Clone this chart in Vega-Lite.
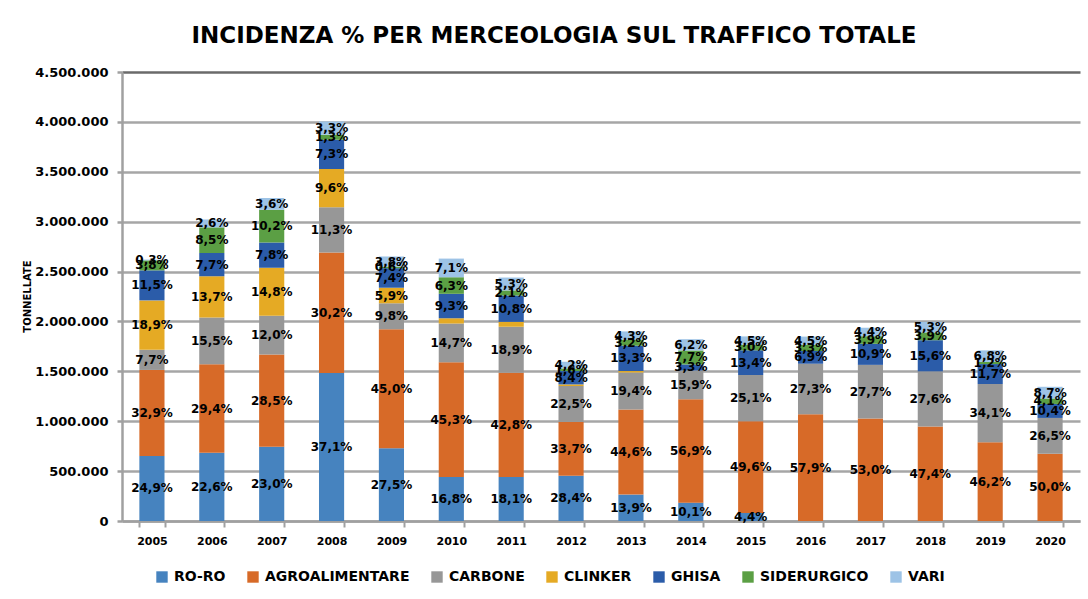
{
  "$schema": "https://vega.github.io/schema/vega-lite/v6.json",
  "autosize": "none",
  "padding": {"left": 122, "top": 72, "right": 8, "bottom": 78},
  "width": 958,
  "height": 449,
  "background": "white",
  "title": {
    "text": "INCIDENZA % PER MERCEOLOGIA SUL TRAFFICO TOTALE",
    "font": "DejaVu Sans",
    "fontSize": 23,
    "fontWeight": "bold",
    "color": "#000000",
    "anchor": "middle",
    "dx": -47,
    "offset": 18
  },
  "data": {
    "values": [
      {"y":"2005","c":"RO-RO","o":1,"t":652000,"p":"24,9%"},
      {"y":"2005","c":"AGROALIMENTARE","o":2,"t":862000,"p":"32,9%"},
      {"y":"2005","c":"CARBONE","o":3,"t":202000,"p":"7,7%"},
      {"y":"2005","c":"CLINKER","o":4,"t":495000,"p":"18,9%"},
      {"y":"2005","c":"GHISA","o":5,"t":301000,"p":"11,5%"},
      {"y":"2005","c":"SIDERURGICO","o":6,"t":100000,"p":"3,8%"},
      {"y":"2005","c":"VARI","o":7,"t":8000,"p":"0,3%"},
      {"y":"2006","c":"RO-RO","o":1,"t":683000,"p":"22,6%"},
      {"y":"2006","c":"AGROALIMENTARE","o":2,"t":888000,"p":"29,4%"},
      {"y":"2006","c":"CARBONE","o":3,"t":468000,"p":"15,5%"},
      {"y":"2006","c":"CLINKER","o":4,"t":414000,"p":"13,7%"},
      {"y":"2006","c":"GHISA","o":5,"t":233000,"p":"7,7%"},
      {"y":"2006","c":"SIDERURGICO","o":6,"t":257000,"p":"8,5%"},
      {"y":"2006","c":"VARI","o":7,"t":79000,"p":"2,6%"},
      {"y":"2007","c":"RO-RO","o":1,"t":745000,"p":"23,0%"},
      {"y":"2007","c":"AGROALIMENTARE","o":2,"t":923000,"p":"28,5%"},
      {"y":"2007","c":"CARBONE","o":3,"t":389000,"p":"12,0%"},
      {"y":"2007","c":"CLINKER","o":4,"t":480000,"p":"14,8%"},
      {"y":"2007","c":"GHISA","o":5,"t":253000,"p":"7,8%"},
      {"y":"2007","c":"SIDERURGICO","o":6,"t":330000,"p":"10,2%"},
      {"y":"2007","c":"VARI","o":7,"t":117000,"p":"3,6%"},
      {"y":"2008","c":"RO-RO","o":1,"t":1484000,"p":"37,1%"},
      {"y":"2008","c":"AGROALIMENTARE","o":2,"t":1208000,"p":"30,2%"},
      {"y":"2008","c":"CARBONE","o":3,"t":452000,"p":"11,3%"},
      {"y":"2008","c":"CLINKER","o":4,"t":384000,"p":"9,6%"},
      {"y":"2008","c":"GHISA","o":5,"t":292000,"p":"7,3%"},
      {"y":"2008","c":"SIDERURGICO","o":6,"t":52000,"p":"1,3%"},
      {"y":"2008","c":"VARI","o":7,"t":132000,"p":"3,3%"},
      {"y":"2009","c":"RO-RO","o":1,"t":729000,"p":"27,5%"},
      {"y":"2009","c":"AGROALIMENTARE","o":2,"t":1193000,"p":"45,0%"},
      {"y":"2009","c":"CARBONE","o":3,"t":260000,"p":"9,8%"},
      {"y":"2009","c":"CLINKER","o":4,"t":156000,"p":"5,9%"},
      {"y":"2009","c":"GHISA","o":5,"t":196000,"p":"7,4%"},
      {"y":"2009","c":"SIDERURGICO","o":6,"t":16000,"p":"0,6%"},
      {"y":"2009","c":"VARI","o":7,"t":101000,"p":"3,8%"},
      {"y":"2010","c":"RO-RO","o":1,"t":442000,"p":"16,8%"},
      {"y":"2010","c":"AGROALIMENTARE","o":2,"t":1150000,"p":"45,3%"},
      {"y":"2010","c":"CARBONE","o":3,"t":387000,"p":"14,7%"},
      {"y":"2010","c":"CLINKER","o":4,"t":53000,"p":""},
      {"y":"2010","c":"GHISA","o":5,"t":245000,"p":"9,3%"},
      {"y":"2010","c":"SIDERURGICO","o":6,"t":166000,"p":"6,3%"},
      {"y":"2010","c":"VARI","o":7,"t":187000,"p":"7,1%"},
      {"y":"2011","c":"RO-RO","o":1,"t":442000,"p":"18,1%"},
      {"y":"2011","c":"AGROALIMENTARE","o":2,"t":1044000,"p":"42,8%"},
      {"y":"2011","c":"CARBONE","o":3,"t":461000,"p":"18,9%"},
      {"y":"2011","c":"CLINKER","o":4,"t":49000,"p":""},
      {"y":"2011","c":"GHISA","o":5,"t":264000,"p":"10,8%"},
      {"y":"2011","c":"SIDERURGICO","o":6,"t":51000,"p":"2,1%"},
      {"y":"2011","c":"VARI","o":7,"t":129000,"p":"5,3%"},
      {"y":"2012","c":"RO-RO","o":1,"t":454000,"p":"28,4%"},
      {"y":"2012","c":"AGROALIMENTARE","o":2,"t":539000,"p":"33,7%"},
      {"y":"2012","c":"CARBONE","o":3,"t":360000,"p":"22,5%"},
      {"y":"2012","c":"CLINKER","o":4,"t":16000,"p":""},
      {"y":"2012","c":"GHISA","o":5,"t":134000,"p":"8,4%"},
      {"y":"2012","c":"SIDERURGICO","o":6,"t":26000,"p":"1,6%"},
      {"y":"2012","c":"VARI","o":7,"t":67000,"p":"4,2%"},
      {"y":"2013","c":"RO-RO","o":1,"t":265000,"p":"13,9%"},
      {"y":"2013","c":"AGROALIMENTARE","o":2,"t":852000,"p":"44,6%"},
      {"y":"2013","c":"CARBONE","o":3,"t":371000,"p":"19,4%"},
      {"y":"2013","c":"CLINKER","o":4,"t":15000,"p":""},
      {"y":"2013","c":"GHISA","o":5,"t":254000,"p":"13,3%"},
      {"y":"2013","c":"SIDERURGICO","o":6,"t":61000,"p":"3,2%"},
      {"y":"2013","c":"VARI","o":7,"t":82000,"p":"4,3%"},
      {"y":"2014","c":"RO-RO","o":1,"t":184000,"p":"10,1%"},
      {"y":"2014","c":"AGROALIMENTARE","o":2,"t":1036000,"p":"56,9%"},
      {"y":"2014","c":"CARBONE","o":3,"t":289000,"p":"15,9%"},
      {"y":"2014","c":"GHISA","o":5,"t":60000,"p":"3,3%"},
      {"y":"2014","c":"SIDERURGICO","o":6,"t":140000,"p":"7,7%"},
      {"y":"2014","c":"VARI","o":7,"t":113000,"p":"6,2%"},
      {"y":"2015","c":"RO-RO","o":1,"t":81000,"p":"4,4%"},
      {"y":"2015","c":"AGROALIMENTARE","o":2,"t":918000,"p":"49,6%"},
      {"y":"2015","c":"CARBONE","o":3,"t":464000,"p":"25,1%"},
      {"y":"2015","c":"GHISA","o":5,"t":248000,"p":"13,4%"},
      {"y":"2015","c":"SIDERURGICO","o":6,"t":56000,"p":"3,0%"},
      {"y":"2015","c":"VARI","o":7,"t":83000,"p":"4,5%"},
      {"y":"2016","c":"AGROALIMENTARE","o":2,"t":1071000,"p":"57,9%"},
      {"y":"2016","c":"CARBONE","o":3,"t":505000,"p":"27,3%"},
      {"y":"2016","c":"GHISA","o":5,"t":128000,"p":"6,9%"},
      {"y":"2016","c":"SIDERURGICO","o":6,"t":61000,"p":"3,3%"},
      {"y":"2016","c":"VARI","o":7,"t":83000,"p":"4,5%"},
      {"y":"2017","c":"AGROALIMENTARE","o":2,"t":1028000,"p":"53,0%"},
      {"y":"2017","c":"CARBONE","o":3,"t":537000,"p":"27,7%"},
      {"y":"2017","c":"GHISA","o":5,"t":211000,"p":"10,9%"},
      {"y":"2017","c":"SIDERURGICO","o":6,"t":76000,"p":"3,9%"},
      {"y":"2017","c":"VARI","o":7,"t":85000,"p":"4,4%"},
      {"y":"2018","c":"AGROALIMENTARE","o":2,"t":948000,"p":"47,4%"},
      {"y":"2018","c":"CARBONE","o":3,"t":552000,"p":"27,6%"},
      {"y":"2018","c":"GHISA","o":5,"t":312000,"p":"15,6%"},
      {"y":"2018","c":"SIDERURGICO","o":6,"t":78000,"p":"3,9%"},
      {"y":"2018","c":"VARI","o":7,"t":106000,"p":"5,3%"},
      {"y":"2019","c":"AGROALIMENTARE","o":2,"t":790000,"p":"46,2%"},
      {"y":"2019","c":"CARBONE","o":3,"t":583000,"p":"34,1%"},
      {"y":"2019","c":"GHISA","o":5,"t":200000,"p":"11,7%"},
      {"y":"2019","c":"SIDERURGICO","o":6,"t":21000,"p":"1,2%"},
      {"y":"2019","c":"VARI","o":7,"t":116000,"p":"6,8%"},
      {"y":"2020","c":"AGROALIMENTARE","o":2,"t":675000,"p":"50,0%"},
      {"y":"2020","c":"CARBONE","o":3,"t":358000,"p":"26,5%"},
      {"y":"2020","c":"GHISA","o":5,"t":140000,"p":"10,4%"},
      {"y":"2020","c":"SIDERURGICO","o":6,"t":55000,"p":"4,1%"},
      {"y":"2020","c":"VARI","o":7,"t":117000,"p":"8,7%"}
    ]
  },
  "encoding": {
    "x": {
      "field": "y",
      "type": "nominal",
      "title": null,
      "scale": {"paddingInner": 0.58, "paddingOuter": 0.29},
      "axis": {
        "labelAngle": 0,
        "labelFont": "DejaVu Sans",
        "labelFontSize": 11,
        "labelFontWeight": "bold",
        "labelColor": "#000000",
        "labelPadding": 8,
        "domainColor": "#a0a0a0",
        "domainWidth": 2.5,
        "tickColor": "#a0a0a0",
        "tickWidth": 2,
        "tickSize": 6,
        "tickBand": "extent",
        "grid": false
      }
    },
    "y": {
      "field": "t",
      "type": "quantitative",
      "stack": "zero",
      "title": "TONNELLATE",
      "scale": {"domain": [0, 4500000], "nice": false},
      "axis": {
        "values": [0, 500000, 1000000, 1500000, 2000000, 2500000, 3000000, 3500000, 4000000, 4500000],
        "format": ",d",
        "labelFont": "DejaVu Sans",
        "labelFontSize": 13,
        "labelFontWeight": "bold",
        "labelColor": "#000000",
        "labelPadding": 9,
        "tickSize": 5,
        "tickColor": "#a0a0a0",
        "tickWidth": 2.5,
        "domainColor": "#a0a0a0",
        "domainWidth": 2.5,
        "grid": true,
        "gridColor": {"condition": {"test": "datum.value == 4500000", "value": "#6a6a6a"}, "value": "#a6a6a6"},
        "gridWidth": 2.5,
        "titleFont": "DejaVu Sans",
        "titleFontSize": 10,
        "titleFontWeight": "bold",
        "titleColor": "#000000",
        "titleX": -95,
        "titleY": 224,
        "titleAngle": -90,
        "titleAlign": "center",
        "titleBaseline": "middle"
      }
    },
    "order": {"field": "o", "type": "quantitative"}
  },
  "layer": [
    {
      "mark": {"type": "bar"},
      "encoding": {
        "color": {
          "field": "c",
          "type": "nominal",
          "scale": {
            "domain": ["RO-RO", "AGROALIMENTARE", "CARBONE", "CLINKER", "GHISA", "SIDERURGICO", "VARI"],
            "range": ["#4683bf", "#d76a28", "#979797", "#e5aa24", "#2b5ca9", "#5b9f44", "#9dc3e6"]
          },
          "legend": {
            "title": null,
            "orient": "none",
            "legendX": 33,
            "legendY": 498,
            "direction": "horizontal",
            "symbolType": "square",
            "symbolSize": 130,
            "symbolStrokeWidth": 0,
            "labelFont": "DejaVu Sans",
            "labelFontSize": 14,
            "labelFontWeight": "bold",
            "labelColor": "#000000",
            "columnPadding": 20,
            "labelOffset": 5
          }
        }
      }
    },
    {
      "mark": {"type": "text", "font": "DejaVu Sans", "fontSize": 12, "fontWeight": "bold", "color": "#000000", "baseline": "middle", "align": "center"},
      "encoding": {
        "y": {"field": "t", "type": "quantitative", "stack": "zero", "bandPosition": 0.5},
        "detail": {"field": "c"},
        "text": {"field": "p"}
      }
    }
  ],
  "config": {
    "font": "DejaVu Sans",
    "view": {"stroke": null},
    "locale": {"number": {"decimal": ",", "thousands": ".", "grouping": [3], "currency": ["", " €"]}}
  }
}
